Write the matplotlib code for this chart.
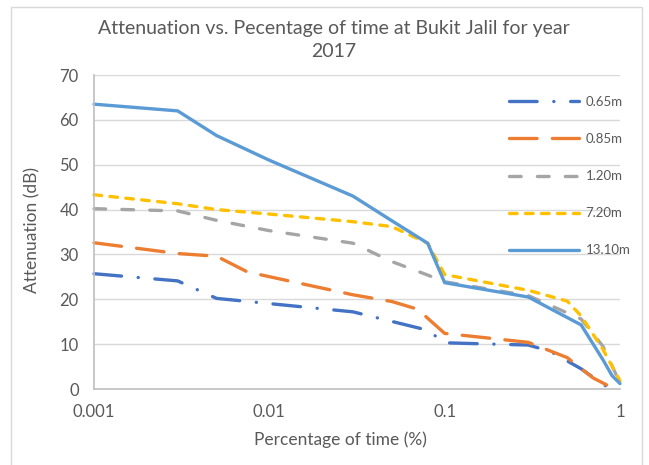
import matplotlib
matplotlib.use("Agg")
import matplotlib.pyplot as plt
from matplotlib.patches import Rectangle
from matplotlib.ticker import FixedLocator, FixedFormatter, NullLocator

plt.rcParams['font.family'] = ['Lato', 'DejaVu Sans']
plt.rcParams['lines.scale_dashes'] = False

# Percentage of time (%) and attenuation (dB) for each antenna height
x_065 = [0.001, 0.003, 0.005, 0.03, 0.08, 0.1, 0.3, 0.4, 0.6, 0.8, 0.9, 1.0]
y_065 = [25.7, 24.1, 20.2, 17.2, 13.1, 10.3, 9.8, 8.4, 4.5, 1.0, 0.0, 0.0]

x_085 = [0.001, 0.003, 0.005, 0.0075, 0.03, 0.05, 0.07, 0.1, 0.3, 0.5, 0.7, 0.9, 1.0]
y_085 = [32.6, 30.2, 29.6, 26.1, 21.0, 19.5, 17.8, 12.4, 10.4, 7.0, 2.5, 0.3, 0.0]

x_120 = [0.001, 0.003, 0.005, 0.01, 0.03, 0.05, 0.08, 0.1, 0.3, 0.6, 0.8, 1.0]
y_120 = [40.2, 39.7, 37.6, 35.3, 32.5, 28.4, 25.4, 23.9, 20.8, 15.6, 9.5, 1.3]

x_720 = [0.001, 0.003, 0.005, 0.01, 0.03, 0.05, 0.08, 0.1, 0.3, 0.5, 0.6, 0.8, 1.0]
y_720 = [43.3, 41.3, 40.0, 39.0, 37.3, 36.2, 32.5, 25.5, 22.0, 19.6, 16.3, 8.8, 1.8]

x_1310 = [0.001, 0.003, 0.005, 0.01, 0.03, 0.05, 0.08, 0.1, 0.3, 0.6, 0.8, 0.9, 1.0]
y_1310 = [63.5, 62.0, 56.5, 51.0, 43.0, 37.5, 32.5, 23.7, 20.5, 14.3, 6.5, 3.0, 1.2]

series_labels = ['0.65m', '0.85m', '1.20m', '7.20m', '13.10m']
x_ticks = [0.001, 0.01, 0.1, 1]
x_tick_labels = ['0.001', '0.01', '0.1', '1']
y_ticks = [0, 10, 20, 30, 40, 50, 60, 70]

W, H = 649, 465
fig = plt.figure(figsize=(W / 100, H / 100), dpi=100)
ax = fig.add_axes([94 / W, 1 - 389 / H, (620 - 94) / W, (389 - 75) / H])

text_col = '#595959'
lw = 2.4
styles = [
    dict(color='#4472C4', dashes=(19.9, 12.0, 0.1, 12.0)),
    dict(color='#ED7D31', dashes=(19.9, 11.0)),
    dict(color='#A5A5A5', dashes=(8.4, 11.7)),
    dict(color='#FFC000', dashes=(5.5, 6.0)),
    dict(color='#5B9BD5'),
]
data = [(x_065, y_065), (x_085, y_085), (x_120, y_120), (x_720, y_720), (x_1310, y_1310)]

for (xs, ys), lab, st in zip(data, series_labels, styles):
    ax.plot(xs, ys, label=lab, lw=lw, color=st['color'],
            dashes=st.get('dashes', ()) or (None, None),
            dash_capstyle='round', solid_capstyle='round',
            solid_joinstyle='round', dash_joinstyle='round', clip_on=False)

ax.set_xscale('log')
ax.set_xlim(0.001, 1)
ax.set_ylim(0, 70)
ax.xaxis.set_major_locator(FixedLocator(x_ticks))
ax.xaxis.set_major_formatter(FixedFormatter(x_tick_labels))
ax.xaxis.set_minor_locator(NullLocator())
ax.set_yticks(y_ticks)
ax.tick_params(axis='both', length=0, labelsize=12, colors=text_col)
ax.tick_params(axis='y', pad=11)
ax.tick_params(axis='x', pad=10.5)

ax.grid(axis='y', color='#D9D9D9', lw=1.0)
ax.set_axisbelow(True)
for s in ['top', 'right']:
    ax.spines[s].set_visible(False)
for s in ['left', 'bottom']:
    ax.spines[s].set_color('#BFBFBF')
    ax.spines[s].set_linewidth(1.2)

fs_leg = 9.5
leg = ax.legend(loc='upper left', bbox_to_anchor=(509 / W, 1 - 96 / H),
                bbox_transform=fig.transFigure, frameon=False,
                fontsize=fs_leg, handlelength=5.3, handletextpad=0.5,
                labelspacing=1.9, borderpad=0, borderaxespad=0)
for t in leg.get_texts():
    t.set_color(text_col)

fig.text(334 / W, 1 - 40 / H,
         'Attenuation vs. Pecentage of time at Bukit Jalil for year\n2017',
         ha='center', va='center', fontsize=14, color=text_col, linespacing=1.45)
fig.text(32 / W, 1 - 230 / H, 'Attenuation (dB)', rotation=90,
         ha='center', va='center', fontsize=12.5, color=text_col)
fig.text(340 / W, 1 - 440 / H, 'Percentage of time (%)',
         ha='center', va='center', fontsize=12.5, color=text_col)

fig.add_artist(Rectangle((11 / W, -0.05), (642 - 11) / W, 1.05 - 7 / H,
                         transform=fig.transFigure, fill=False,
                         edgecolor='#D9D9D9', lw=1.0))

fig.savefig('out.png', dpi=100)
